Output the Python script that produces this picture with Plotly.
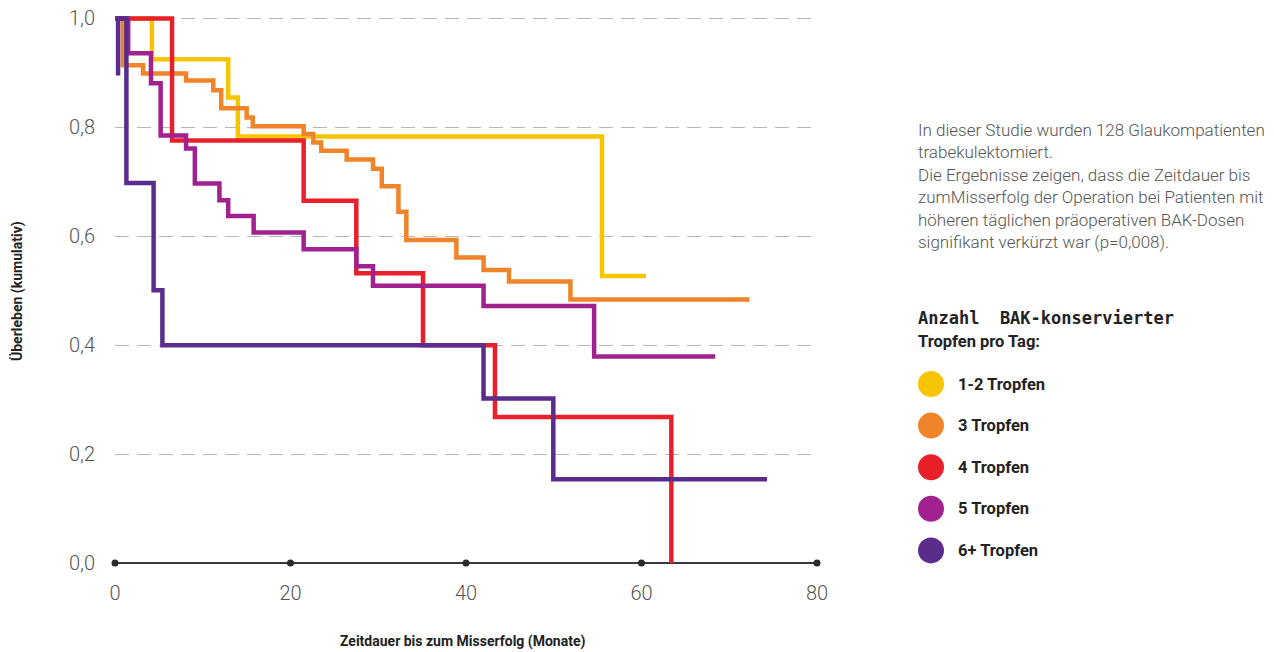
import plotly.graph_objects as go

# ---- data (months, cumulative survival) ----
series_names = ["1-2 Tropfen", "3 Tropfen", "4 Tropfen", "5 Tropfen", "6+ Tropfen"]
colors = ["#F6C400", "#F0842A", "#E8202A", "#A1228F", "#5A2D8C"]

t_12 = [0, 4.2, 12.9, 14.0, 55.5, 60.5]
s_12 = [1.0, 0.925, 0.855, 0.783, 0.527, 0.527]

t_3 = [0, 0.9, 3.2, 8.1, 11.2, 12.1, 15.0, 15.7, 21.5, 22.6, 23.5, 26.4, 29.4,
       30.4, 32.3, 33.2, 38.9, 42.0, 44.9, 51.9, 72.3]
s_3 = [1.0, 0.914, 0.899, 0.886, 0.868, 0.835, 0.818, 0.802, 0.788, 0.772, 0.757,
       0.741, 0.724, 0.692, 0.645, 0.593, 0.561, 0.538, 0.517, 0.484, 0.484]

t_4 = [0, 6.5, 21.5, 27.5, 35.1, 43.3, 63.4]
s_4 = [1.0, 0.776, 0.665, 0.532, 0.40, 0.268, 0.0]

t_5 = [0, 1.5, 4.1, 5.2, 8.1, 9.1, 11.9, 12.9, 15.8, 21.5, 27.5, 29.4, 42.0, 54.6, 68.4]
s_5 = [1.0, 0.936, 0.881, 0.785, 0.761, 0.697, 0.666, 0.637, 0.607, 0.576, 0.545,
       0.509, 0.472, 0.379, 0.379]

t_6 = [0.35, 0.35, 1.3, 4.4, 5.4, 42.0, 49.95, 74.3]
s_6 = [0.895, 1.0, 0.698, 0.501, 0.40, 0.302, 0.154, 0.154]

x_ticks = [0, 20, 40, 60, 80]
y_ticks = [0.0, 0.2, 0.4, 0.6, 0.8, 1.0]
y_tick_labels = ["0,0", "0,2", "0,4", "0,6", "0,8", "1,0"]

x_title = "Zeitdauer bis zum Misserfolg (Monate)"
y_title = "Überleben (kumulativ)"
info_lines = [
    "In dieser Studie wurden 128 Glaukompatienten",
    "trabekulektomiert.",
    "Die Ergebnisse zeigen, dass die Zeitdauer bis",
    "zumMisserfolg der Operation bei Patienten mit",
    "höheren täglichen präoperativen BAK-Dosen",
    "signifikant verkürzt war (p=0,008).",
]
legend_title = ["Anzahl  BAK-konservierter", "Tropfen pro Tag:"]

# ---- layout geometry (pixels) ----
W, H = 1274, 652
ML, MR, MT, MB = 115, 457, 13, 89
PW, PH = W - ML - MR, H - MT - MB
FONT = "Roboto"


def px(x):
    return (x - ML) / PW


def py(y):
    return (H - MB - y) / PH


fig = go.Figure()

# axis dots at the x ticks
fig.add_trace(go.Scatter(x=x_ticks, y=[0] * len(x_ticks), mode="markers",
                         marker=dict(size=7, color="#2a2a2a"), cliponaxis=False,
                         hoverinfo="skip", showlegend=False))

all_t = [t_12, t_3, t_4, t_5, t_6]
all_s = [s_12, s_3, s_4, s_5, s_6]
for name, c, t, s in zip(series_names, colors, all_t, all_s):
    fig.add_trace(go.Scatter(x=t, y=s, mode="lines", name=name,
                             line=dict(color=c, width=4.5, shape="hv"),
                             showlegend=False))

annotations = []
annotations.append(dict(text="<b>" + x_title + "</b>", x=px(463), y=py(641), xref="paper",
                        yref="paper", showarrow=False, xanchor="center", yanchor="middle",
                        font=dict(family=FONT, size=14, color="#222")))
annotations.append(dict(text="<b>" + y_title + "</b>", x=px(18), y=py(291), xref="paper",
                        yref="paper", showarrow=False, textangle=-90,
                        xanchor="center", yanchor="middle",
                        font=dict(family=FONT, size=14, color="#222")))

for i, line in enumerate(info_lines):
    annotations.append(dict(text=line, x=px(916), y=py(130 + i * 22.4), xref="paper",
                            yref="paper", showarrow=False, xanchor="left", yanchor="middle",
                            font=dict(family=FONT, size=17, color="#555", weight=300)))

annotations.append(dict(text="<b>" + legend_title[0] + "</b>", x=px(916), y=py(318),
                        xref="paper", yref="paper", showarrow=False, xanchor="left",
                        yanchor="middle",
                        font=dict(family="DejaVu Sans Mono", size=17, color="#222")))
annotations.append(dict(text="<b>" + legend_title[1] + "</b>", x=px(916), y=py(341),
                        xref="paper", yref="paper", showarrow=False, xanchor="left",
                        yanchor="middle",
                        font=dict(family=FONT, size=16.5, color="#222")))

shapes = []
for i, (name, c) in enumerate(zip(series_names, colors)):
    yc = 384 + i * 41.6
    shapes.append(dict(type="circle", xref="paper", yref="paper",
                       xsizemode="pixel", ysizemode="pixel",
                       xanchor=px(931), yanchor=py(yc),
                       x0=-13, x1=13, y0=-13, y1=13,
                       fillcolor=c, line=dict(width=0)))
    annotations.append(dict(text="<b>" + name + "</b>", x=px(956), y=py(yc), xref="paper",
                            yref="paper", showarrow=False, xanchor="left", yanchor="middle",
                            font=dict(family=FONT, size=16.5, color="#222")))

fig.update_layout(
    width=W, height=H,
    margin=dict(l=ML, r=MR, t=MT, b=MB, autoexpand=False),
    paper_bgcolor="white", plot_bgcolor="white",
    showlegend=False,
    annotations=annotations, shapes=shapes,
    xaxis=dict(range=[0, 80], tickvals=x_ticks, ticktext=[str(v) for v in x_ticks],
               showgrid=False, zeroline=False, showline=False, automargin=False,
               ticks="outside", ticklen=12, tickcolor="rgba(0,0,0,0)",
               tickfont=dict(family=FONT, size=20, color="#555", weight=300)),
    yaxis=dict(range=[0, 1.01], tickvals=y_ticks, ticktext=y_tick_labels,
               showgrid=True, gridcolor="#b5b5b5", gridwidth=1, griddash="14px,8px",
               zeroline=True, zerolinecolor="#3a3a3a", zerolinewidth=2, automargin=False,
               showline=False, ticks="outside", ticklen=15, tickcolor="rgba(0,0,0,0)",
               tickfont=dict(family=FONT, size=20, color="#555", weight=300)),
)

fig.write_html("out.html", config={"displayModeBar": False},
               post_script="document.body.style.margin='0px';")
